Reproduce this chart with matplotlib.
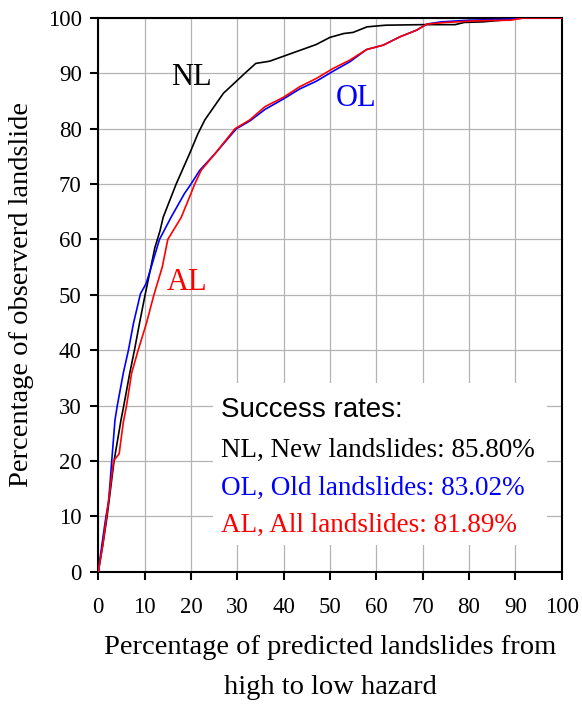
import matplotlib
matplotlib.use("Agg")
import matplotlib.pyplot as plt
from matplotlib.patches import Rectangle

# --- data ---
nl_x = [0, 1.0, 1.9, 3.4, 4.9, 5.5, 6.8, 7.8, 8.9, 10.1, 11.2, 12.2, 13.3, 14.0, 16.8, 19.7, 21.5, 23, 27, 32, 34,
        37, 40, 44, 47, 50, 53, 55, 58, 62, 70, 77, 79, 83, 87, 90, 100]
nl_y = [0, 5, 10, 20, 27.4, 30, 35.9, 40, 44.9, 50, 54.4, 58.5, 61.5, 64, 70, 75.5, 79.1, 81.6, 86.4, 90.3, 91.8,
        92.2, 93.1, 94.3, 95.2, 96.5, 97.2, 97.4, 98.4, 98.7, 98.8, 98.8, 99.2, 99.3, 99.6, 100, 100]

ol_x = [0, 0.8, 1.66, 2.2, 2.5, 2.9, 3.6, 4.1, 5.4, 6.5, 7.6, 9.1, 10.3, 11.2, 13.2, 15.7, 18.6, 20, 21.9, 25.2,
        29.8, 32.7, 36, 40, 43.5, 47.1, 50.7, 54.3, 57.9, 61.5, 65.1, 68.7, 70.9, 74, 80, 89, 92, 100]
ol_y = [0, 5, 10, 12.6, 15.6, 20, 27.4, 30, 35.9, 40, 44.9, 50.2, 52, 54.4, 60, 64, 68.3, 70, 72.5, 75.5,
        80, 81.4, 83.5, 85.4, 87.2, 88.6, 90.4, 92.1, 94.3, 95.1, 96.6, 97.8, 98.9, 99.3, 99.6, 99.8, 100, 100]

al_x = [0, 1.0, 1.8, 3.3, 4.5, 5.4, 6.1, 7.2, 8.6, 10.4, 12.0, 13.8, 15.0, 17.9, 20.0, 20.8, 22.2, 25.2, 29.5, 32.7,
        36, 40, 43.5, 47.1, 50.7, 54.3, 57.9, 61.5, 65.1, 68.7, 70.9, 75, 81.7, 89, 91.7, 100]
al_y = [0, 5, 10, 20, 21.3, 27, 30, 35.9, 40, 44.9, 50, 55, 60, 64, 68.3, 70, 72.5, 75.5, 80, 81.6,
        84, 85.7, 87.6, 89.1, 90.9, 92.4, 94.3, 95.1, 96.6, 97.8, 98.9, 99.2, 99.5, 99.6, 100, 100]

ticks = list(range(0, 101, 10))
rate_title = "Success rates:"
rate_lines = ["NL, New landslides: 85.80%", "OL, Old landslides: 83.02%", "AL, All landslides: 81.89%"]
rate_colors = ["black", "#0000ff", "#ff0000"]

serif = ["Liberation Serif", "DejaVu Serif"]
sans = ["Liberation Sans", "DejaVu Sans"]

fig = plt.figure(figsize=(5.82, 7.06), dpi=100)
ax = fig.add_axes([98.3 / 582, 1 - 571.7 / 706, (561.6 - 98.3) / 582, (571.7 - 18) / 706])

ax.set_xlim(0, 100)
ax.set_ylim(0, 100)
ax.set_xticks(ticks)
ax.set_yticks(ticks)
ax.grid(True, color="#b4b4b4", linewidth=0.9, zorder=0)
ax.set_axisbelow(True)

ax.add_patch(Rectangle((24.75, 4.8), 96.9 - 24.75, 34.1 - 4.8, facecolor="white",
                       edgecolor="none", zorder=1))

ax.plot(nl_x, nl_y, color="black", lw=1.2, zorder=3)
ax.plot(ol_x, ol_y, color="#0000ff", lw=1.2, zorder=3)
ax.plot(al_x, al_y, color="#ff0000", lw=1.2, zorder=4)

ax.text(20.0, 89.3, "NL", color="black", fontsize=22, family=serif, ha="center", va="center", zorder=5)
ax.text(55.7, 85.4, "OL", color="#0000ff", fontsize=22, family=serif, ha="center", va="center", zorder=5)
ax.text(19.1, 52.3, "AL", color="#ff0000", fontsize=22, family=serif, ha="center", va="center", zorder=5)

ax.text(26.4, 27.9, rate_title, color="black", fontsize=20, family=sans, ha="left", va="baseline", zorder=5)
for yb, s, c in zip([20.66, 13.85, 7.22], rate_lines, rate_colors):
    ax.text(26.4, yb, s, color=c, fontsize=19.5, family=serif, ha="left", va="baseline", zorder=5)

for sp in ax.spines.values():
    sp.set_linewidth(1.5)
    sp.set_color("black")
ax.tick_params(axis="both", direction="out", length=5.5, width=1.5, labelsize=16.5, pad=6.5,
               top=False, right=False)
for lab in ax.get_xticklabels() + ax.get_yticklabels():
    lab.set_family(serif)
ax.tick_params(axis="x", pad=13)

ax.set_xlabel("Percentage of predicted landslides from\nhigh to low hazard", fontsize=20.5,
              family=serif, linespacing=1.8, labelpad=12)
ax.set_ylabel("Percentage of observerd landslide", fontsize=20.5, family=serif, labelpad=10)

fig.savefig("out.png", dpi=100)
